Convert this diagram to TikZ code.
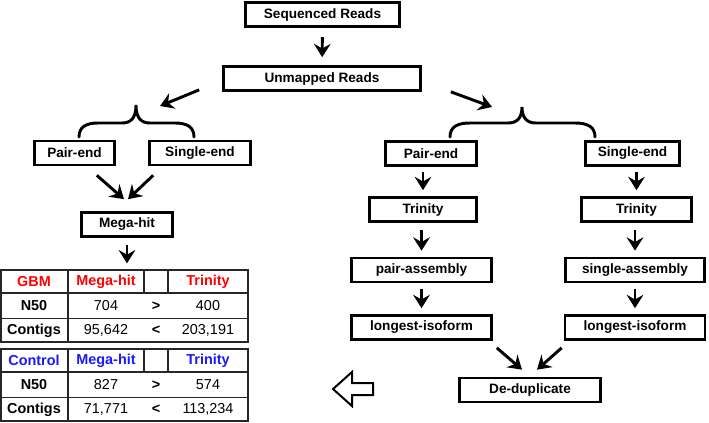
\documentclass[tikz,border=0pt]{standalone}
\usepackage{fontspec}
\setmainfont{Liberation Sans}
\usepackage{xcolor}
\usetikzlibrary{arrows.meta}
\usetikzlibrary{calc}

\definecolor{gbmred}{RGB}{255,0,0}
\definecolor{ctrlblue}{RGB}{25,25,255}
\newcommand{\boxfont}{\fontsize{10.2}{12}\selectfont\bfseries}
\newcommand{\cellfont}{\fontsize{10.8}{13}\selectfont}

\tikzset{
  box/.style={draw, line width=2pt, inner sep=0pt, minimum height=18pt, font=\boxfont},
  arr/.style={line width=2.2pt, -{Stealth[length=10pt,width=12.5pt,inset=3.5pt]}, shorten <=4pt, shorten >=4.5pt},
  grid/.style={line width=1.3pt, draw=black!85},
  cell/.style={inner sep=0pt, font=\cellfont},
  brace/.style={line width=2.2pt, line cap=round},
}

\begin{document}
\begin{tikzpicture}[x=0.75pt,y=0.75pt,yscale=-1,xscale=1]
\useasboundingbox (0,0) rectangle (709,422);

% Top
\node[box, minimum width=115.5pt] (seq) at (322.5,14.5) {Sequenced Reads};
\node[box, minimum width=147.75pt] (unm) at (322,78.5) {Unmapped Reads};

% Left branch
\node[box, minimum width=60pt] (lpe) at (74.5,153) {Pair-end};
\node[box, minimum width=75.75pt] (lse) at (200,153) {Single-end};
\node[box, minimum width=68.25pt] (meg) at (127,224.5) {Mega-hit};

% Right branch
\node[box, minimum width=68.25pt] (rpe) at (431,153.5) {Pair-end};
\node[box, minimum width=70.5pt] (rse) at (632.5,153.5) {Single-end};
\node[box, minimum width=80.25pt] (ltr) at (423,209.5) {Trinity};
\node[box, minimum width=82.5pt] (rtr) at (636.5,209.5) {Trinity};
\node[box, minimum width=105pt] (pas) at (421.5,270) {pair-assembly};
\node[box, minimum width=104.25pt] (sas) at (635,270) {single-assembly};
\node[box, minimum width=105pt] (lli) at (421.5,327.5) {longest-isoform};
\node[box, minimum width=105pt] (rli) at (635,327.5) {longest-isoform};
\node[box, minimum width=105.75pt] (ded) at (530,390) {De-duplicate};

% Braces
\coordinate (lbtip) at (136,105);
\coordinate (rbtip) at (522,107);
\draw[brace] (79,137) .. controls (79,127) and (86,123) .. (98,123) -- (122,123) .. controls (131,123) and (136,118) .. (lbtip) .. controls (136,118) and (141,123) .. (150,123) -- (175,123) .. controls (187,123) and (194,127) .. (194,137);
\draw[brace] (450,137) .. controls (450,127) and (457,123) .. (470,123) -- (508,123) .. controls (517,123) and (522,118) .. (rbtip) .. controls (522,118) and (527,123) .. (536,123) -- (575,123) .. controls (588,123) and (595,127) .. (595,137);

% Tables
\foreach \tb/\lab/\clr/\dy/\na/\nb/\ca/\cb in {g/GBM/gbmred/0/704/400/{95,642}/{203,191}, c/Control/ctrlblue/79/827/574/{71,771}/{113,234}}{
  \draw[grid] (1,270+\dy) rectangle (248,342+\dy);
  \draw[grid] (1,293+\dy) -- (248,293+\dy);
  \draw[grid] (1,318.5+\dy) -- (248,318.5+\dy);
  \draw[grid] (68,270+\dy) -- (68,342+\dy);
  \draw[grid] (144,270+\dy) -- (144,293+\dy);
  \draw[grid] (168,270+\dy) -- (168,293+\dy);
  \node[cell, text=\clr, font=\cellfont\bfseries] (\tb-lab) at (34,281.5+\dy) {\lab};
  \node[cell, text=\clr, font=\cellfont\bfseries] (\tb-meg) at (106,281.5+\dy) {Mega-hit};
  \node[cell, text=\clr, font=\cellfont\bfseries] (\tb-tri) at (208,281.5+\dy) {Trinity};
  \node[cell, font=\cellfont\bfseries] (\tb-n50) at (34,306+\dy) {N50};
  \node[cell] (\tb-n50a) at (106,306+\dy) {\na};
  \node[cell, font=\cellfont\bfseries] (\tb-gt) at (156,306+\dy) {>};
  \node[cell] (\tb-n50b) at (208,306+\dy) {\nb};
  \node[cell, font=\cellfont\bfseries] (\tb-con) at (34,330.5+\dy) {Contigs};
  \node[cell] (\tb-cona) at (106,330.5+\dy) {\ca};
  \node[cell, font=\cellfont\bfseries] (\tb-lt) at (156,330.5+\dy) {<};
  \node[cell] (\tb-conb) at (208,330.5+\dy) {\cb};
}
\coordinate (gtop) at (127,270);

% Arrows
\draw[arr, shorten <=7pt, shorten >=6pt] (seq) -- (unm);
\draw[arr, shorten <=0pt, shorten >=0pt] ($(unm.south west)+(-23,-2)$) -- ($(lbtip)+(24,1)$);
\draw[arr, shorten <=0pt, shorten >=0pt] ($(unm.south east)+(29,0)$) -- ($(rbtip)+(-30,0)$);
\draw[arr, shorten <=0pt, shorten >=0pt] ($(lpe.south east)+(-19,9)$) -- ($(meg.north)+(-3,-12)$);
\draw[arr, shorten <=0pt, shorten >=0pt] ($(lse.south west)+(5,9)$) -- ($(meg.north)+(1,-12)$);
\draw[arr, shorten <=5pt, shorten >=5pt] (meg) -- (gtop);
\draw[arr] (rpe.south -| ltr.north) -- (ltr.north);
\draw[arr] (rse.south -| rtr.north) -- (rtr.north);
\draw[arr, shorten <=5pt] (ltr.south -| pas.north) -- (pas.north);
\draw[arr, shorten <=5pt] (rtr.south -| sas.north) -- (sas.north);
\draw[arr] (pas) -- (lli);
\draw[arr] (sas) -- (rli);
\draw[arr, shorten <=0pt, shorten >=0pt] ($(lli.south east)+(4,7)$) -- ($(ded.north)+(-8,-7)$);
\draw[arr, shorten <=0pt, shorten >=0pt] ($(rli.south west)+(-2,7)$) -- ($(ded.north)+(7,-7)$);

% Hollow arrow
\draw[line width=1.5pt, line join=miter] (333,389) -- (352,372) -- (352,383) -- (373,383) -- (373,395) -- (352,395) -- (352,406) -- cycle;

\end{tikzpicture}
\end{document}
